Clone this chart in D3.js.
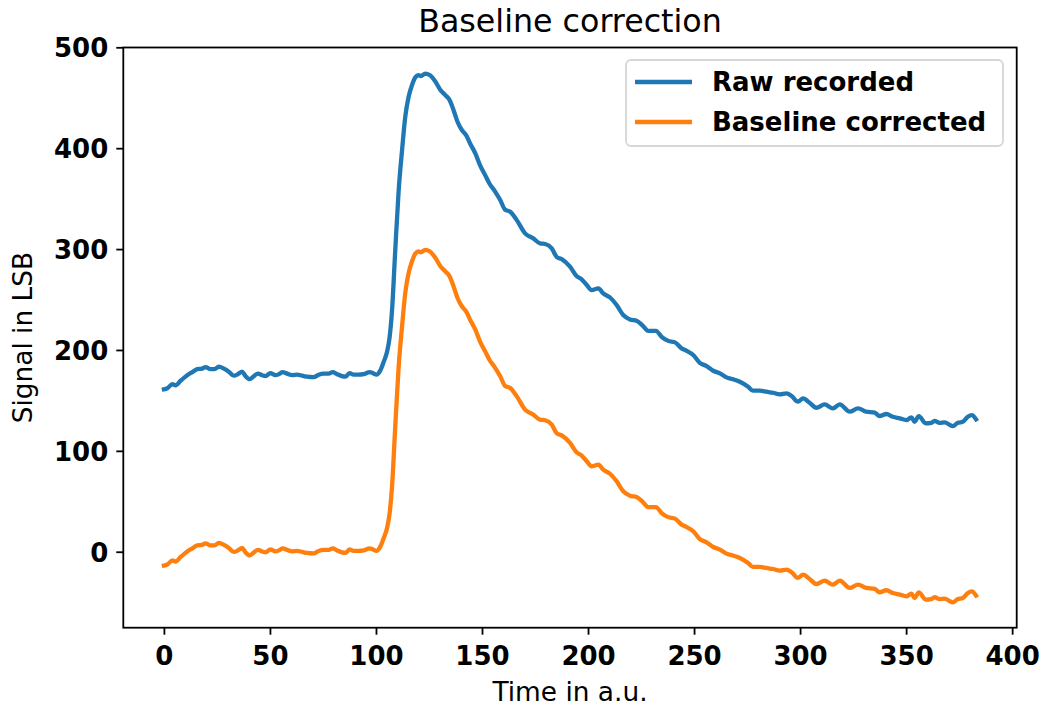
<!DOCTYPE html>
<html>
<head>
<meta charset="utf-8">
<script src="https://cdn.jsdelivr.net/npm/d3@7"></script>
<style>
    body { margin: 0; background: #fff; }
    text { font-family: "DejaVu Sans", sans-serif; }
</style>
</head>
<body>
<div id="chart"></div>
<script>
// sample times (a.u.)
var times = [
    0, 1.6, 4, 5.5, 7.9, 11, 13.4, 15.7, 18, 19.6, 22, 23.9, 25.9, 28.3, 30.6, 33, 34.9, 36.9, 38.5, 40.4,
    42.4, 44.3, 46.3, 47.9, 50.2, 52.6, 54.2, 56, 58.1, 60.5, 62.8, 65.2, 67.5, 70.6, 73, 75.3, 77.7, 79.6,
    81.7, 84, 85.6, 87.5, 89.5, 91.8, 94.2, 97, 98.6, 100.2, 102, 103.6, 105.2, 106.4, 107.6, 109.1, 110.7,
    112.3, 113.8, 115.4, 117, 118.5, 120.1, 121.2, 123.2, 125.3, 128, 130.3, 132.7, 134.7, 136.6, 138.5,
    140.5, 142.5, 144.4, 146.8, 149.1, 151.5, 153.5, 156.2, 158.6, 160.9, 163.3, 166.4, 170.3, 174.2, 177.4,
    179.8, 182.9, 185.3, 187.6, 191.5, 194.7, 197, 199.4, 201.7, 204.9, 207.2, 210.4, 213.5, 216.6, 219.8,
    222.9, 226, 228.4, 232, 234.7, 237.8, 241, 244.1, 246.5, 249.6, 252.7, 255.9, 259, 262.2, 265.3, 268.4,
    271.6, 275.5, 277.8, 281, 284.2, 287.3, 290.4, 293.6, 296, 299, 301.4, 304.5, 307.7, 311.6, 315.5, 318.7,
    323.4, 327.3, 331.2, 335.2, 337.5, 340.7, 343.8, 347, 350.1, 352.5, 354, 356, 359.2, 361.9, 363.4, 365.8,
    368.1, 372, 374.4, 376.7, 379.1, 381, 383
];

var rawRecorded = [
    161, 162, 166, 165, 169.5, 175, 178, 181, 181.5, 183, 181, 181, 183.5, 181.5, 178.5, 174.5, 176, 178.5, 174, 171,
    174, 176.5, 175, 174, 177, 175, 176, 178, 176.5, 175, 175.5, 174.5, 173.5, 173, 175.5, 176.5, 176.5, 178,
    176, 174, 173.5, 177, 175.5, 175.5, 176, 178, 177, 175.5, 179.5, 188, 198, 212, 240, 299, 358,
    398, 431, 451, 462.5, 470, 472.5, 471.5, 474, 472.5, 466, 458, 452.6, 447.7, 437.7, 426,
    418, 413, 404.7, 395, 383, 373.3, 365, 357, 348.6, 339, 337, 328.7, 315.6, 310.6, 305.6,
    305, 300.7, 292, 290, 282.5, 273, 270, 264.3, 259.4, 261, 256, 252, 244.5, 234.6, 230.3,
    229, 223.7, 219, 219, 213, 209, 207.5, 201.6, 199.2, 195, 187.3, 184, 179.4, 176.8, 172.8, 170.9,
    168.5, 163.5, 159.6, 159.6, 158.6, 157.6, 156, 157, 154.3, 148.7, 152, 147.7, 142.7, 146, 142, 146,
    138.8, 142, 138.8, 137.8, 134.5, 136.5, 133.8, 132.2, 130.5, 133.2, 128.8, 134.5, 127.3, 127.8, 129.8, 127.8,
    128.2, 124.6, 127.8, 128.8, 133.8, 135.5, 131.2
];

var baselineCorrected = [
    -13.7, -12.7, -8.7, -9.7, -5.2, 0.3, 3.3, 6.3, 6.8, 8.3, 6.3, 6.3, 8.8, 6.8, 3.8, -0.2, 1.3, 3.8, -0.7, -3.7,
    -0.7, 1.8, 0.3, -0.7, 2.3, 0.3, 1.3, 3.3, 1.8, 0.3, 0.8, -0.2, -1.2, -1.7, 0.8, 1.8, 1.8, 3.3,
    1.3, -0.7, -1.2, 2.3, 0.8, 0.8, 1.3, 3.3, 2.3, 0.8, 4.8, 13.3, 23.3, 37.3, 65.3, 124.3, 183.3,
    223.3, 256.3, 276.3, 287.8, 295.3, 297.8, 296.8, 299.3, 297.8, 291.3, 283.3, 277.9, 273, 263, 251.3,
    243.3, 238.3, 230, 220.3, 208.3, 198.6, 190.3, 182.3, 173.9, 164.3, 162.3, 154, 140.9, 135.9, 130.9,
    130.3, 126, 117.3, 115.3, 107.8, 98.3, 95.3, 89.6, 84.7, 86.3, 81.3, 77.3, 69.8, 59.9, 55.6,
    54.3, 49, 44.3, 44.3, 38.3, 34.3, 32.8, 26.9, 24.5, 20.3, 12.6, 9.3, 4.7, 2.1, -1.9, -3.8,
    -6.2, -11.2, -15.1, -15.1, -16.1, -17.1, -18.7, -17.7, -20.4, -26, -22.7, -27, -32, -28.7, -32.7, -28.7,
    -35.9, -32.7, -35.9, -36.9, -40.2, -38.2, -40.9, -42.5, -44.2, -41.5, -45.9, -40.2, -47.4, -46.9, -44.9, -46.9,
    -46.5, -50.1, -46.9, -45.9, -40.9, -39.2, -43.5
];

var seriesNames = ["Raw recorded", "Baseline corrected"];
var seriesColors = ["#1f77b4", "#ff7f0e"];
var xTicks = [0, 50, 100, 150, 200, 250, 300, 350, 400];
var yTicks = [0, 100, 200, 300, 400, 500];

var margin = { top: 47.5, right: 25.3, bottom: 81.3, left: 123.3 },
    width = 1042 - margin.left - margin.right,
    height = 709 - margin.top - margin.bottom;

var svg = d3
    .select("#chart")
    .append("svg")
    .attr("width", 1042)
    .attr("height", 709);

var g = svg.append("g").attr("transform", "translate(" + margin.left + "," + margin.top + ")");

var x = d3.scaleLinear().domain([-19.15, 402.15]).range([0, width]);
var y = d3.scaleLinear().domain([-75.3, 499.8]).range([height, 0]);

var xAxis = g
    .append("g")
    .attr("transform", "translate(0," + height + ")")
    .call(d3.axisBottom(x).tickValues(xTicks).tickSize(7).tickPadding(8).tickSizeOuter(0));
var yAxis = g.append("g").call(d3.axisLeft(y).tickValues(yTicks).tickSize(7).tickPadding(8).tickSizeOuter(0));

[xAxis, yAxis].forEach((a) => {
    a.select(".domain").remove();
    a.selectAll(".tick line").attr("stroke", "#000").attr("stroke-width", 1.8);
    a.selectAll(".tick text")
        .attr("fill", "#000")
        .style("font-family", "DejaVu Sans")
        .style("font-weight", "bold")
        .style("font-size", "26px");
});
yAxis.selectAll(".tick text").attr("dy", "0.36em");
xAxis.selectAll(".tick text").attr("dy", "0.85em");

var series = [rawRecorded, baselineCorrected];
var line = d3
    .line()
    .curve(d3.curveMonotoneX)
    .x((d, i) => x(times[i]))
    .y((d) => y(d));

g.selectAll(".line")
    .data(series)
    .enter()
    .append("path")
    .attr("class", "line")
    .attr("fill", "none")
    .attr("stroke", (d, i) => seriesColors[i])
    .attr("stroke-width", 4.3)
    .attr("stroke-linejoin", "round")
    .attr("stroke-linecap", "square")
    .attr("d", line);

// frame
g.append("rect")
    .attr("width", width)
    .attr("height", height)
    .attr("fill", "none")
    .attr("stroke", "#000")
    .attr("stroke-width", 1.8);

// title and axis labels
svg.append("text")
    .attr("x", margin.left + width / 2)
    .attr("y", 32)
    .attr("text-anchor", "middle")
    .style("font-size", "31.7px")
    .text("Baseline correction");

svg.append("text")
    .attr("x", margin.left + width / 2)
    .attr("y", 701)
    .attr("text-anchor", "middle")
    .style("font-size", "26.4px")
    .text("Time in a.u.");

svg.append("text")
    .attr("transform", "translate(32," + (margin.top + height / 2) + ") rotate(-90)")
    .attr("text-anchor", "middle")
    .style("font-size", "26.4px")
    .text("Signal in LSB");

// legend
var legend = svg.append("g").attr("transform", "translate(626,60)");
legend
    .append("rect")
    .attr("width", 377)
    .attr("height", 86)
    .attr("rx", 5)
    .attr("fill", "#fff")
    .attr("fill-opacity", 0.8)
    .attr("stroke", "#d6d6d6")
    .attr("stroke-width", 1.8);

legend
    .selectAll("legend-lines")
    .data(seriesNames)
    .enter()
    .append("line")
    .attr("x1", 9)
    .attr("x2", 66)
    .attr("y1", (_, i) => 22 + i * 40)
    .attr("y2", (_, i) => 22 + i * 40)
    .attr("stroke", (d, i) => seriesColors[i])
    .attr("stroke-width", 4.3);

legend
    .selectAll("legend-labels")
    .data(seriesNames)
    .enter()
    .append("text")
    .attr("x", 86)
    .attr("y", (_, i) => 31 + i * 40)
    .style("font-weight", "bold")
    .style("font-size", "26px")
    .text((d) => d);
</script>
</body>
</html>
